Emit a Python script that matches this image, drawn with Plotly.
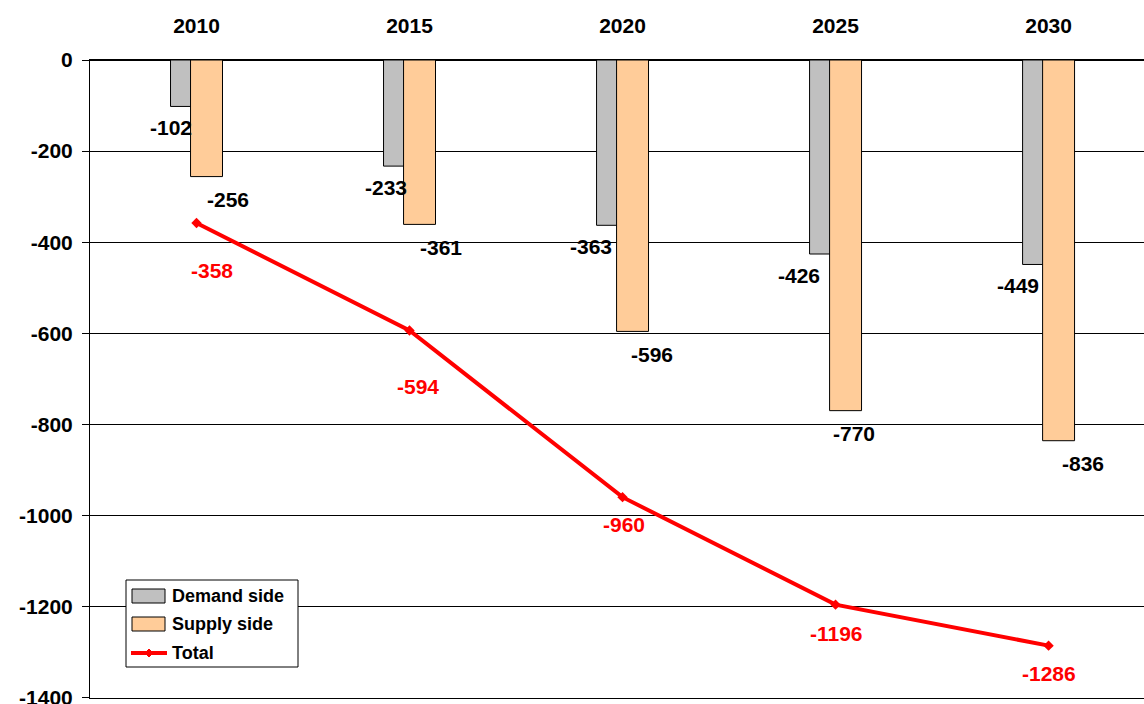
import plotly.graph_objects as go

# Chart data
years = ["2010", "2015", "2020", "2025", "2030"]
demand_side = [-102, -233, -363, -426, -449]
supply_side = [-256, -361, -596, -770, -836]
total = [-358, -594, -960, -1196, -1286]
y_ticks = [0, -200, -400, -600, -800, -1000, -1200, -1400]

# Label placement (pixel shifts relative to each mark)
demand_dx = [-26, -24, -32, -37, -31]
supply_dx = [31, 31, 29, 18, 34]
total_dx = [15, 8, 1, 1, 0]
total_dy = [-47, -56, -27, -29, -28]

FONT = "Liberation Sans, Arial, sans-serif"
BAR_W = 0.15
DEMAND_COLOR = "#C0C0C0"
SUPPLY_COLOR = "#FFCC99"
TOTAL_COLOR = "#FF0000"
idx = list(range(len(years)))

# Figure geometry (pixels) used to place the hand-drawn legend
W, H = 1144, 704
ML, MT, MB = 90, 60, 6
PW, PH = W - ML, H - MT - MB
Y_MIN = -1401


def px(xp):
    return (xp - ML) / PW


def py(yp):
    return (H - MB - yp) / PH


fig = go.Figure()
fig.add_trace(go.Bar(
    x=idx, y=demand_side, name="Demand side", width=BAR_W, offset=-0.122,
    marker=dict(color=DEMAND_COLOR, line=dict(color="#000000", width=1)),
))
fig.add_trace(go.Bar(
    x=idx, y=supply_side, name="Supply side", width=BAR_W, offset=-0.028,
    marker=dict(color=SUPPLY_COLOR, line=dict(color="#000000", width=1)),
))
fig.add_trace(go.Scatter(
    x=idx, y=total, name="Total", mode="lines+markers",
    line=dict(color=TOTAL_COLOR, width=4),
    marker=dict(symbol="diamond", size=8, color=TOTAL_COLOR),
))

bold = dict(family=FONT, size=21, weight="bold")
annotations = []
for i in idx:
    annotations.append(dict(
        x=i, y=demand_side[i], text=f"{demand_side[i]}", showarrow=False,
        xshift=demand_dx[i], yshift=-21, font=dict(bold, color="#000000"),
    ))
    annotations.append(dict(
        x=i, y=supply_side[i], text=f"{supply_side[i]}", showarrow=False,
        xshift=supply_dx[i], yshift=-23, font=dict(bold, color="#000000"),
    ))
    annotations.append(dict(
        x=i, y=total[i], text=f"{total[i]}", showarrow=False,
        xshift=total_dx[i], yshift=total_dy[i], font=dict(bold, color=TOTAL_COLOR),
    ))

# Legend box drawn with shapes and text
shapes = [
    dict(type="rect", xref="paper", yref="paper",
         x0=px(126), x1=px(298), y0=py(667), y1=py(580),
         fillcolor="white", line=dict(color="#000000", width=1), layer="above"),
    dict(type="rect", xref="paper", yref="paper",
         x0=px(132), x1=px(165), y0=py(603), y1=py(589),
         fillcolor=DEMAND_COLOR, line=dict(color="#000000", width=1), layer="above"),
    dict(type="rect", xref="paper", yref="paper",
         x0=px(132), x1=px(165), y0=py(631), y1=py(617),
         fillcolor=SUPPLY_COLOR, line=dict(color="#000000", width=1), layer="above"),
    dict(type="line", xref="paper", yref="paper",
         x0=px(131), x1=px(167), y0=py(653), y1=py(653),
         line=dict(color=TOTAL_COLOR, width=4), layer="above"),
    dict(type="path", xref="paper", yref="paper",
         path=f"M {px(149)} {py(649)} L {px(153)} {py(653)} L {px(149)} {py(657)} L {px(145)} {py(653)} Z",
         fillcolor=TOTAL_COLOR, line=dict(color=TOTAL_COLOR, width=1), layer="above"),
]
for name, yc in [("Demand side", 596), ("Supply side", 624), ("Total", 653)]:
    annotations.append(dict(
        xref="paper", yref="paper", x=px(170), y=py(yc), xanchor="left", yanchor="middle",
        text=name, showarrow=False, font=dict(family=FONT, size=18, weight="bold", color="#000000"),
    ))

fig.update_layout(
    width=W, height=H,
    margin=dict(l=ML, r=0, t=MT, b=MB, autoexpand=False),
    paper_bgcolor="white", plot_bgcolor="white",
    barmode="overlay",
    font=dict(family=FONT, size=21, color="#000000"),
    annotations=annotations,
    shapes=shapes,
    showlegend=False,
    xaxis=dict(
        side="top", range=[-0.5, 4.448], automargin=False,
        tickmode="array", tickvals=idx, ticktext=years,
        showgrid=False, zeroline=False, ticks="",
        showline=True, mirror=True, linecolor="#000000", linewidth=1,
        ticklabelstandoff=18,
        tickfont=dict(family=FONT, size=21, weight="bold"),
    ),
    yaxis=dict(
        range=[Y_MIN, 0], tickmode="array", tickvals=y_ticks, automargin=False,
        ticktext=[str(v) for v in y_ticks],
        showgrid=True, gridcolor="#000000", gridwidth=1,
        zeroline=True, zerolinecolor="#000000", zerolinewidth=1,
        showline=True, linecolor="#000000", linewidth=1,
        ticks="outside", ticklen=7, tickcolor="#000000",
        ticklabelstandoff=5, ticklabeloverflow="allow",
        tickfont=dict(family=FONT, size=21, weight="bold"),
    ),
)

fig.write_html("out.html")
